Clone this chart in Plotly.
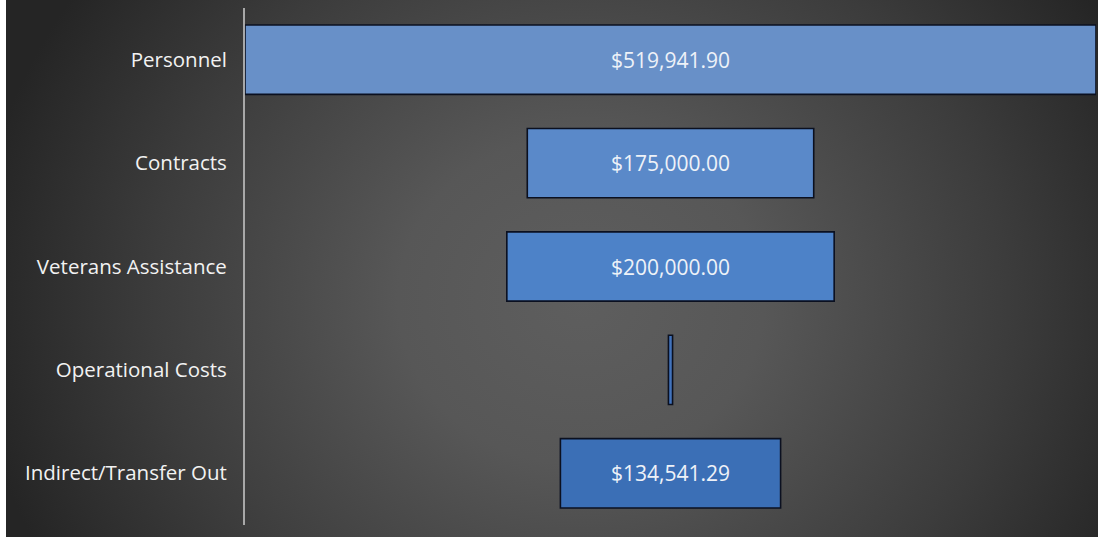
import base64
import plotly.graph_objects as go

categories = ["Personnel", "Contracts", "Veterans Assistance", "Operational Costs", "Indirect/Transfer Out"]
values = [519941.90, 175000.00, 200000.00, 2500.00, 134541.29]
bar_colors = ["#6890c8", "#5a89c9", "#4d82c8", "#4273bc", "#3b6fb6"]

W, H = 1098, 537
L, R, T, B = 245, 2, 8, 12
pw = W - L - R
ph = H - T - B

svg = f'''<svg xmlns="http://www.w3.org/2000/svg" width="{W-6}" height="{H}" viewBox="0 0 {W-6} {H}">
<defs><radialGradient id="g" gradientUnits="userSpaceOnUse" cx="575" cy="300" r="610" gradientTransform="translate(575 300) scale(1 0.9) translate(-575 -300)">
<stop offset="0" stop-color="#5e5e5e"/><stop offset="0.3" stop-color="#575757"/><stop offset="0.7" stop-color="#3c3c3c"/><stop offset="1" stop-color="#252525"/></radialGradient></defs>
<rect x="0" y="0" width="{W-6}" height="{H}" fill="url(#g)"/></svg>'''
src = "data:image/svg+xml;base64," + base64.b64encode(svg.encode()).decode()

fig = go.Figure(go.Funnel(
    y=categories,
    x=values,
    marker=dict(color=bar_colors, line=dict(color="#0b1020", width=1.6)),
    texttemplate="$%{x:,.2f}",
    textposition="inside",
    insidetextanchor="middle",
    textfont=dict(family="Open Sans", size=21, color="#eef2f8"),
    connector=dict(visible=False),
    hoverinfo="skip",
))

m = max(values) / 2
fig.update_layout(
    width=W, height=H,
    margin=dict(l=L, r=R, t=T, b=B),
    paper_bgcolor="white",
    plot_bgcolor="rgba(0,0,0,0)",
    showlegend=False,
    funnelgap=0.33,
    uniformtext=dict(minsize=14, mode="hide"),
    xaxis=dict(range=[-m, m], visible=False, fixedrange=True),
    yaxis=dict(
        showline=True, linecolor="#a8a8a8", linewidth=2,
        showgrid=False, zeroline=False, ticks="",
        ticklabelstandoff=12,
        tickfont=dict(family="Open Sans", size=20.5, color="#f2f2f2"),
        fixedrange=True,
    ),
    images=[dict(
        source=src, xref="paper", yref="paper",
        x=(6 - L) / pw, y=1 + T / ph,
        sizex=(W - 6) / pw, sizey=H / ph,
        xanchor="left", yanchor="top", sizing="stretch", layer="below",
    )],
)

fig.write_html("out.html", config={"displayModeBar": False})
